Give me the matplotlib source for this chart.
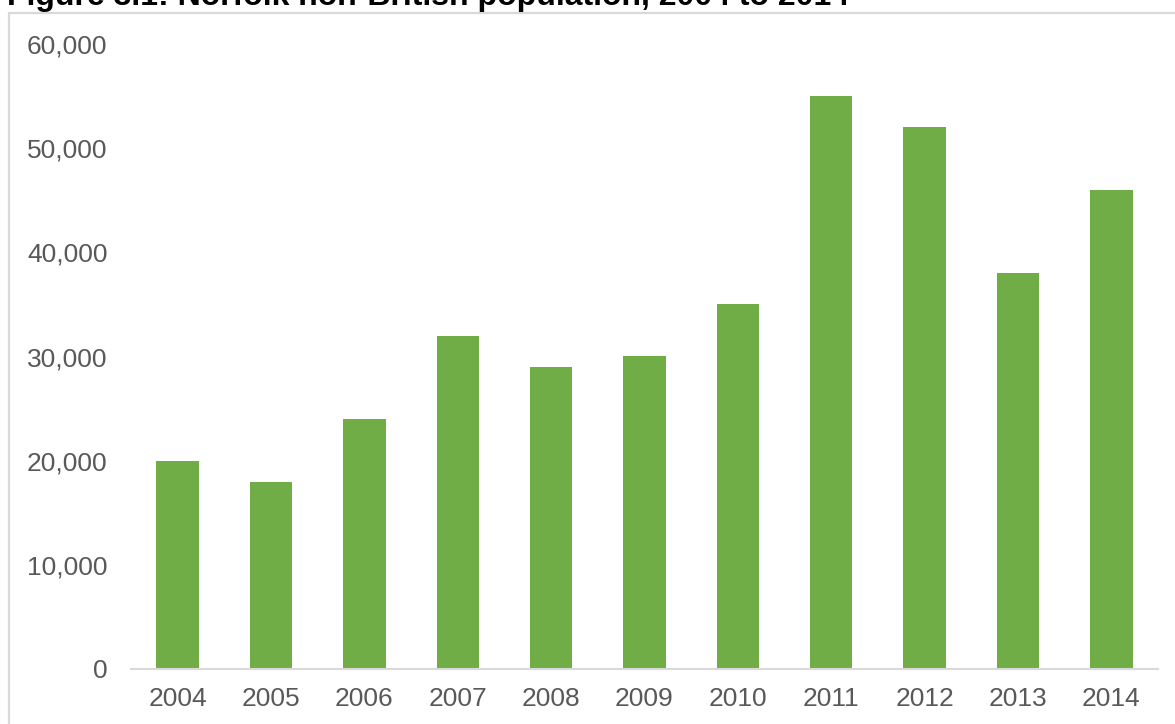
import matplotlib.pyplot as plt
from matplotlib.patches import Rectangle
from matplotlib.ticker import FuncFormatter

years = ['2004', '2005', '2006', '2007', '2008', '2009',
         '2010', '2011', '2012', '2013', '2014']
population = [20000, 18000, 24000, 32000, 29000, 30000,
              35000, 55000, 52000, 38000, 46000]
y_ticks = [0, 10000, 20000, 30000, 40000, 50000, 60000]

plt.rcParams['font.family'] = ['Liberation Sans', 'DejaVu Sans']

fig = plt.figure(figsize=(11.75, 7.24), dpi=100)
W, H = 1175, 724

# chart frame (runs off the right and bottom edges)
fig.patches.append(Rectangle((8.5 / W, -0.05), 1.2, 1 - 12.5 / H + 0.05,
                             transform=fig.transFigure, fill=False,
                             edgecolor='#d9d9d9', linewidth=1.6))

fig.text(7 / W, 1 - 5 / H, 'Figure 3.1: Norfolk non-British population, 2004 to 2014',
         fontsize=23, fontweight='bold', color='black', ha='left', va='baseline')

left, right = 131 / W, 1158 / W
bottom, top = 1 - 669 / H, 1 - 44 / H
ax = fig.add_axes([left, bottom, right - left, top - bottom])

x = range(len(years))
ax.bar(x, population, width=0.455, color='#70ad47')

ax.set_xlim(-0.5, len(years) - 0.5)
ax.set_ylim(0, 60000)
ax.set_xticks(list(x))
ax.set_xticklabels(years)
ax.set_yticks(y_ticks)
ax.yaxis.set_major_formatter(FuncFormatter(lambda v, p: f'{int(v):,}'))

for s in ['top', 'right', 'left']:
    ax.spines[s].set_visible(False)
ax.spines['bottom'].set_color('#d9d9d9')
ax.spines['bottom'].set_linewidth(1.5)

ax.tick_params(axis='both', length=0, labelsize=19, labelcolor='#595959')
ax.tick_params(axis='y', pad=17)
ax.tick_params(axis='x', pad=13)

fig.savefig('out.png', dpi=100)
